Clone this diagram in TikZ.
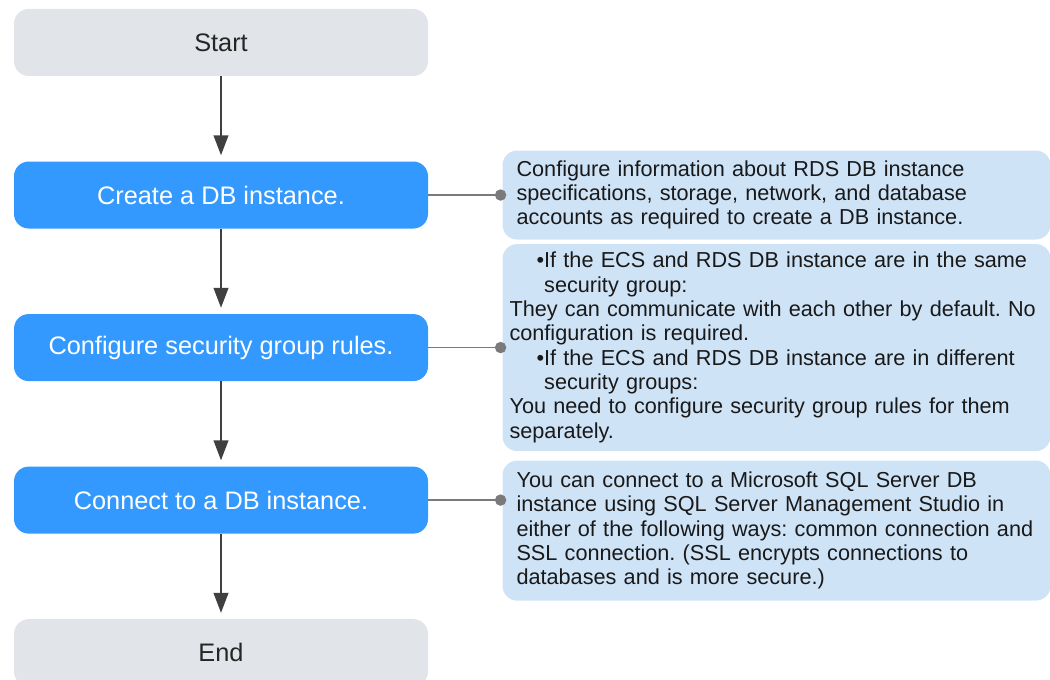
\documentclass[tikz,border=0pt]{standalone}
\usepackage{fontspec}
\setmainfont{Liberation Sans}
\usepackage{tikz}
\usetikzlibrary{arrows.meta,positioning}
\definecolor{stepblue}{HTML}{3399FF}
\definecolor{termgrey}{HTML}{E1E4E8}
\definecolor{noteblue}{HTML}{CFE3F7}
\definecolor{arrowgrey}{HTML}{404040}
\definecolor{linkgrey}{HTML}{7A7A7A}

\begin{document}
\begin{tikzpicture}[x=0.75pt, y=-0.75pt,
    term/.style={rectangle, rounded corners=11pt, fill=termgrey, minimum width=310.5pt, minimum height=50.25pt, font=\fontsize{19}{22}\selectfont, text=black!85},
    stepbox/.style={term, fill=stepblue, text=white},
    note/.style={rectangle, rounded corners=11pt, fill=noteblue, inner xsep=10.5pt, text width=390pt, align=left, font=\fontsize{16.25}{18.25}\selectfont\frenchspacing, text=black!90},
    arrow/.style={-{Triangle[length=15pt, width=11pt]}, line width=1.5pt, draw=arrowgrey, shorten >=4.5pt},
    link/.style={-{Circle[length=8.5pt]}, line width=1.1pt, draw=linkgrey, shorten >=-3pt}
  ]
    \useasboundingbox (0,0) rectangle (1050,680);
    \node[term] (start) at (221,42.5) {Start};
    \node[stepbox, below=63.75pt of start] (create) {Create a DB instance.};
    \node[stepbox, below=63.75pt of create] (secgroup) {Configure security group rules.};
    \node[stepbox, below=63.75pt of secgroup] (connect) {Connect to a DB instance.};
    \node[term, below=63.75pt of connect] (end) {End};
    % notes on the right
    \node[note, minimum height=66.75pt, right=55.5pt of create] (createnote) {Configure information about RDS DB instance\\
      specifications, storage, network, and database\\
      accounts as required to create a DB instance.};
    \node[note, inner xsep=5.25pt, text width=400.5pt, minimum height=155.25pt, right=55.5pt of secgroup] (secnote) {\makebox[26pt][r]{\textbullet}If the ECS and RDS DB instance are in the same\\
      \hspace*{26pt}security group:\\
      They can communicate with each other by default. No\\
      configuration is required.\\
      \makebox[26pt][r]{\textbullet}If the ECS and RDS DB instance are in different\\
      \hspace*{26pt}security groups:\\
      You need to configure security group rules for them\\
      separately.};
    \node[note, minimum height=105pt, below=6.75pt of secnote.south west, anchor=north west] (connectnote) {You can connect to a Microsoft SQL Server DB\\
      instance using SQL Server Management Studio in\\
      either of the following ways: common connection and\\
      SSL connection. (SSL encrypts connections to\\
      databases and is more secure.)};
    \draw[arrow] (start) -- (create);
    \draw[arrow] (create) -- (secgroup);
    \draw[arrow] (secgroup) -- (connect);
    \draw[arrow] (connect) -- (end);
    \draw[link] (create.east) -- (createnote.west);
    \draw[link] (secgroup.east) -- (secnote.west);
    \draw[link] (connect.east) -- (connect.east -| connectnote.west);
  \end{tikzpicture}
\end{document}
